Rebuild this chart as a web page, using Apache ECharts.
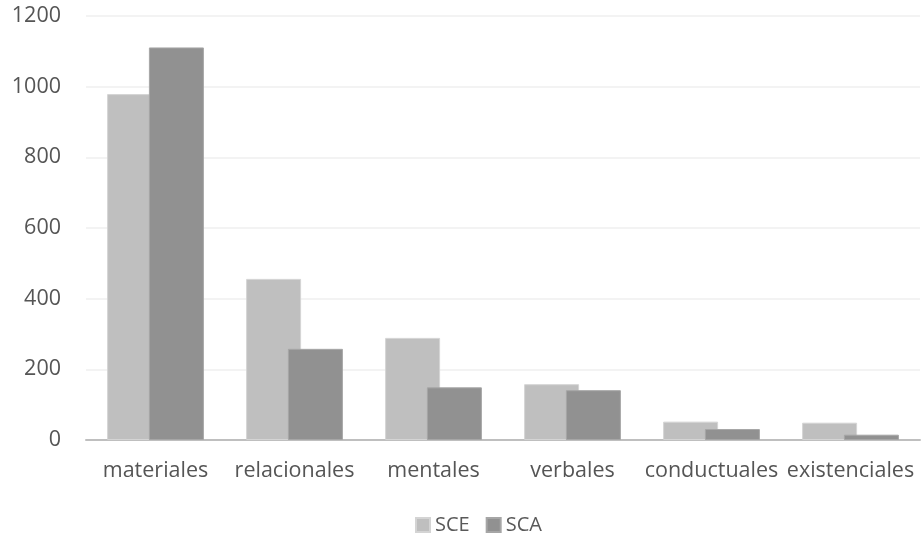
<!DOCTYPE html>
<html>
<head>
<meta charset="utf-8">
<script src="https://cdn.jsdelivr.net/npm/echarts@6/dist/echarts.min.js"></script>
<style>
html,body{margin:0;padding:0;background:#fff;}
#chart{width:923px;height:535px;}
</style>
</head>
<body>
<div id="chart"></div>
<script>
const categories = ['materiales','relacionales','mentales','verbales','conductuales','existenciales'];
const sceValues = [979, 456, 289, 158, 52, 49];
const scaValues = [1111, 258, 149, 141, 31, 15];
const yTicks = {min: 0, max: 1200, interval: 200};

const chart = echarts.init(document.getElementById('chart'), null, {renderer: 'canvas'});
const font = '"Open Sans", sans-serif';
chart.setOption({
  animation: false,
  backgroundColor: '#ffffff',
  textStyle: {fontFamily: font},
  grid: {left: 86, right: 3, top: 16, bottom: 95, containLabel: false},
  legend: {
    top: 510,
    left: 410,
    itemWidth: 14,
    itemHeight: 14,
    itemGap: 16,
    icon: 'rect',
    textStyle: {color: '#595959', fontSize: 20, fontFamily: font},
    data: ['SCE','SCA']
  },
  xAxis: {
    type: 'category',
    data: categories,
    axisLine: {lineStyle: {color: '#bfbfbf', width: 2}},
    axisTick: {show: false},
    axisLabel: {color: '#555555', fontSize: 21.5, margin: 20, fontFamily: font, interval: 0}
  },
  yAxis: {
    type: 'value',
    min: yTicks.min, max: yTicks.max, interval: yTicks.interval,
    axisLine: {show: false},
    axisTick: {show: false},
    splitLine: {lineStyle: {color: '#efefef', width: 1.5}},
    axisLabel: {color: '#555555', fontSize: 21.5, margin: 25, fontFamily: font, formatter: function (v) { return String(v); }}
  },
  series: [
    {
      name: 'SCE', type: 'bar', data: sceValues,
      barWidth: 55, barGap: '-24%',
      itemStyle: {color: '#bfbfbf', borderColor: '#d4d4d4', borderWidth: 1}
    },
    {
      name: 'SCA', type: 'bar', data: scaValues,
      barWidth: 55, barGap: '-24%',
      itemStyle: {color: '#919191', borderColor: '#a6a6a6', borderWidth: 1}
    }
  ]
});
</script>
</body>
</html>
